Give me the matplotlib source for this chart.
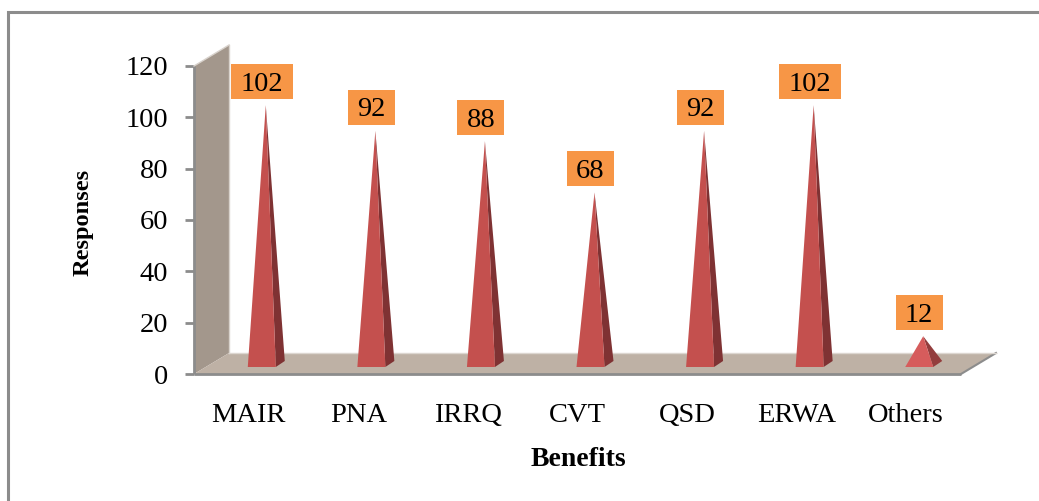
import matplotlib
matplotlib.use("Agg")
import matplotlib.pyplot as plt
from matplotlib.patches import Polygon, Rectangle

categories = ["MAIR", "PNA", "IRRQ", "CVT", "QSD", "ERWA", "Others"]
responses = [102, 92, 88, 68, 92, 102, 12]
y_ticks = [0, 20, 40, 60, 80, 100, 120]

W, H = 1039, 501
SERIF = "Liberation Serif"
LABEL_SIZE = 20.5
fig = plt.figure(figsize=(W / 100, H / 100), dpi=100, facecolor="white")

# Outer frame, in pixel coordinates
bg = fig.add_axes([0, 0, 1, 1])
bg.set_xlim(0, W)
bg.set_ylim(H, 0)
bg.axis("off")
bg.plot([7.5, 7.5, W], [H, 11.5, 11.5], color="#8c8c8c", lw=2.2, solid_capstyle="butt",
        solid_joinstyle="miter")

# Chart plane: the front edge of the floor and the value scale of the wall
left, right, bottom, top = 194, 961, 374, 66
ax = fig.add_axes([left / W, 1 - bottom / H, (right - left) / W, (bottom - top) / H])
ax.set_xlim(-0.5, 6.5)
ax.set_ylim(0, 120)
ax.patch.set_visible(False)
for s in ax.spines.values():
    s.set_visible(False)

px_x = 7 / (right - left)      # data units per pixel, horizontally
px_y = 120 / (bottom - top)    # data units per pixel, vertically
x0, x1 = -0.5, 6.5


def shift(x, y, dx=0, dy=0):
    return (x + dx * px_x, y - dy * px_y)


# Wall and floor with 3-D depth
depth_x, depth_y = 35, -21
wall = [shift(x0, 0), shift(x0, 120), shift(x0, 120, depth_x, depth_y), shift(x0, 0, depth_x, depth_y)]
ax.add_patch(Polygon(wall, closed=True, fc="#a3978c", ec="none", clip_on=False))
floor = [shift(x0, 0), shift(x1, 0), shift(x1, 0, depth_x, depth_y), shift(x0, 0, depth_x, depth_y)]
ax.add_patch(Polygon(floor, closed=True, fc="#beb1a5", ec="none", clip_on=False))
ax.plot(*zip(shift(x1, 0), shift(x1, 0, depth_x, depth_y)), color="#8c8c8c", lw=1.5, clip_on=False)
ax.plot([x0, x1], [0, 0], color="#8c8c8c", lw=2, clip_on=False, solid_capstyle="butt")
ax.plot([x0, x0], [0, 120], color="#8c8c8c", lw=2, clip_on=False, solid_capstyle="butt")
ax.plot(*zip(shift(x0, 120), shift(x0, 120, depth_x, depth_y)), color="#d8d2cc", lw=1, clip_on=False)
ax.plot(*zip(shift(x0, 0, depth_x, depth_y), shift(x0, 120, depth_x, depth_y)), color="#d8d2cc", lw=1, clip_on=False)
ax.plot(*zip(shift(x0, 0, depth_x, depth_y), shift(x1, 0, depth_x, depth_y)), color="#dcd6d0", lw=1, clip_on=False)

# Pyramids with a lit front face and a shaded side face, each with an orange value tag
for i, (cat, v) in enumerate(zip(categories, responses)):
    base_y = 7 * px_y
    fl = shift(i, base_y, 13 - 14)
    fr = shift(i, base_y, 13 + 14)
    br = shift(i, base_y, 13 + 23, -6)
    apex = shift(i, v + base_y, 17)
    front_col, side_col = ("#d65c5c", "#933d3d") if v < 20 else ("#c4504e", "#7f3233")
    ax.add_patch(Polygon([fr, br, apex], closed=True, fc=side_col, ec="none", clip_on=False, zorder=3))
    ax.add_patch(Polygon([fl, fr, apex], closed=True, fc=front_col, ec="none", clip_on=False, zorder=4))

    tag_w = 62 if v >= 100 else 47
    tag_h = 35
    cx, cy = shift(i, v + base_y, 13, -23.5)
    ax.add_patch(Rectangle((cx - tag_w / 2 * px_x, cy - tag_h / 2 * px_y), tag_w * px_x, tag_h * px_y,
                           fc="#f79646", ec="none", clip_on=False, zorder=5))
    ax.annotate(str(v), xy=(i, v + base_y), xytext=(13 * 0.72, 10.4), textcoords="offset points",
                ha="center", va="baseline", family=SERIF, fontsize=LABEL_SIZE, color="black", zorder=6,
                annotation_clip=False)

ax.set_xticks(range(len(categories)))
ax.set_xticklabels(categories, family=SERIF, fontsize=LABEL_SIZE)
ax.set_yticks(y_ticks)
ax.set_yticklabels([str(t) for t in y_ticks], family=SERIF, fontsize=LABEL_SIZE)
ax.tick_params(axis="y", length=6.5, width=2, color="#8c8c8c", pad=12)
ax.tick_params(axis="x", length=0, pad=21)

fig.text(83 / W, 1 - 222 / H, "Responses", rotation=90, family=SERIF, fontsize=17.6, fontweight="bold",
         ha="center", va="center")
fig.text(578 / W, 1 - 459 / H, "Benefits", family=SERIF, fontsize=20, fontweight="bold",
         ha="center", va="center")

fig.savefig("out.png", dpi=100, facecolor="white")
